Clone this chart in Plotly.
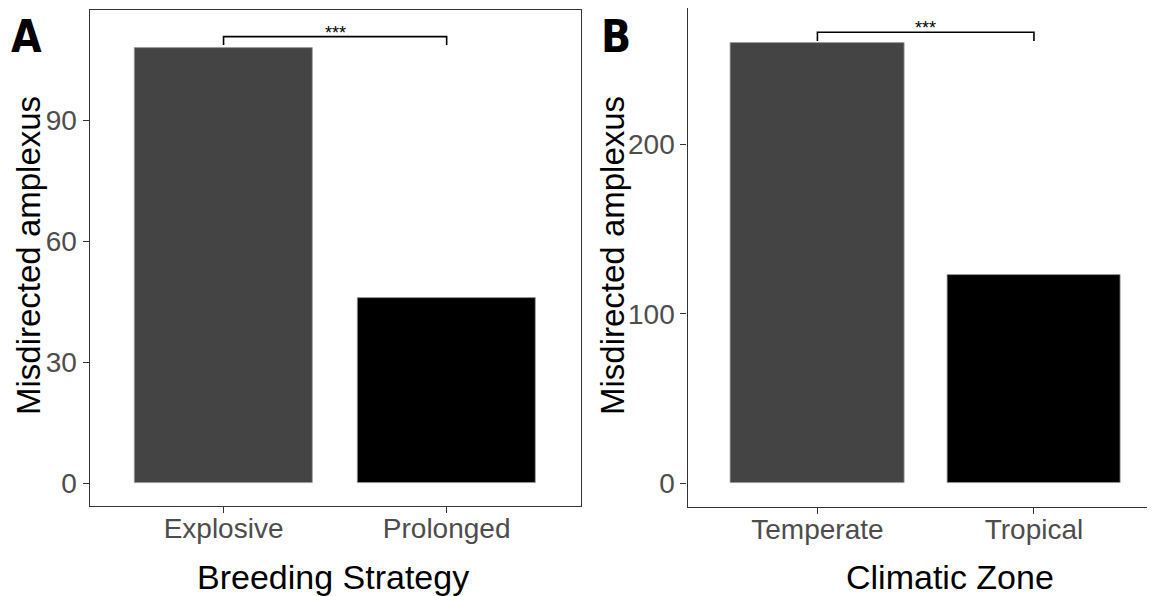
import plotly.graph_objects as go

# ---- data ----
strategy_cats = ["Explosive", "Prolonged"]
strategy_vals = [108, 46]
climate_cats = ["Temperate", "Tropical"]
climate_vals = [260, 123]
bar_colors = ["#444444", "#000000"]
# significance brackets: [top of bracket, bottom of bracket ends]
bracket_a = [110.8, 108.7]
bracket_b = [266.3, 261.1]
signif_label = "***"
yticks_a = [0, 30, 60, 90]
yticks_b = [0, 100, 200]

# page is rendered with an 8px body margin; work in page pixels and convert
OFF = 8
W, H = 1155 - OFF, 596 - OFF
FONT = "Liberation Sans, Arial, sans-serif"
TICKC = "#4D4D4D"
LINEC = "#333333"

fig = go.Figure()
fig.add_trace(go.Bar(x=strategy_cats, y=strategy_vals, width=0.8,
                     marker=dict(color=bar_colors, line=dict(color="#9a9a9a", width=0.8)),
                     xaxis="x", yaxis="y", showlegend=False))
fig.add_trace(go.Bar(x=climate_cats, y=climate_vals, width=0.8,
                     marker=dict(color=bar_colors, line=dict(color="#9a9a9a", width=0.8)),
                     xaxis="x2", yaxis="y2", showlegend=False))

def px_x(p):
    return min(1.0, (p - OFF) / W)

def px_y(p):
    return 1 - (p - OFF) / H

axis_common = dict(showgrid=False, zeroline=False, showline=True, linecolor=LINEC,
                   linewidth=1.3, ticks="outside", ticklen=6, tickwidth=1.3,
                   tickcolor=LINEC, tickfont=dict(family=FONT, size=28, color=TICKC))

fig.update_layout(
    width=W, height=H,
    margin=dict(l=0, r=0, t=0, b=0),
    paper_bgcolor="white", plot_bgcolor="white",
    bargap=0,
    xaxis=dict(domain=[px_x(89.7), px_x(580.5)], range=[-0.6, 1.6], mirror=True,
               anchor="y", type="category", ticklabelstandoff=-9, **axis_common),
    yaxis=dict(domain=[px_y(506), px_y(10)], range=[-5.63, 117.4], mirror=True,
               anchor="x", tickvals=yticks_a, **axis_common),
    xaxis2=dict(domain=[px_x(687.5), 1.0], range=[-0.6, 1.559], mirror=True,
                anchor="y2", type="category", ticklabelstandoff=-9, **axis_common),
    yaxis2=dict(domain=[px_y(507), px_y(8)], range=[-13.97, 280.6], mirror=False,
                anchor="x2", tickvals=yticks_b, **axis_common),
)

# brackets
for xa, ya, br in (("x", "y", bracket_a), ("x2", "y2", bracket_b)):
    top, bot = br
    fig.add_shape(type="path", xref=xa, yref=ya,
                  path=f"M 0 {bot} L 0 {top} L 1 {top} L 1 {bot}",
                  line=dict(color="black", width=1.6))
    fig.add_annotation(x=0.5, y=top, xref=xa, yref=ya, text=signif_label,
                       showarrow=False, yanchor="bottom", yshift=-8,
                       font=dict(family=FONT, size=18, color="black"))

# axis titles
for xc, txt in ((333, "Breeding Strategy"), (950, "Climatic Zone")):
    fig.add_annotation(x=px_x(xc), y=px_y(577), xref="paper", yref="paper",
                       text=txt, showarrow=False, xanchor="center", yanchor="middle",
                       font=dict(family=FONT, size=34, color="black"))
for xc, yc in ((28, 256), (612, 256)):
    fig.add_annotation(x=px_x(xc), y=px_y(yc), xref="paper", yref="paper",
                       text="Misdirected amplexus", showarrow=False, textangle=-90,
                       xanchor="center", yanchor="middle",
                       font=dict(family=FONT, size=33, color="black"))

# panel labels
for xc, lab in ((26, "A"), (616, "B")):
    fig.add_annotation(x=px_x(xc), y=px_y(36), xref="paper", yref="paper",
                       text=f"<b>{lab}</b>", showarrow=False, xanchor="center",
                       yanchor="middle",
                       font=dict(family="Liberation Sans Narrow, DejaVu Sans Condensed, sans-serif",
                                 size=44, color="black"))

fig.write_html("out.html")
